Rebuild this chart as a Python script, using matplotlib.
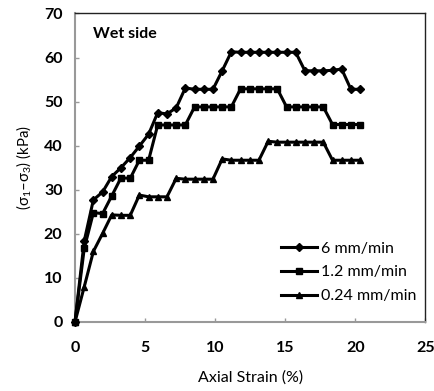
import matplotlib
matplotlib.use("Agg")
import matplotlib.pyplot as plt

plt.rcParams['font.family'] = ['Lato', 'DejaVu Sans']
plt.rcParams['mathtext.fontset'] = 'custom'
plt.rcParams['mathtext.rm'] = 'Lato'
plt.rcParams['mathtext.it'] = 'Lato:italic'

strain = [0, 0.66, 1.31, 1.97, 2.62, 3.28, 3.94, 4.59, 5.25, 5.9, 6.56, 7.22,
          7.87, 8.53, 9.18, 9.84, 10.5, 11.15, 11.81, 12.46, 13.12, 13.78,
          14.43, 15.09, 15.74, 16.4, 17.06, 17.71, 18.37, 19.02, 19.68, 20.34]

rate_6 = [0, 18.4, 27.7, 29.5, 33.0, 35.0, 37.3, 39.9, 42.6, 47.5, 47.2, 48.6,
          53.1, 52.8, 52.8, 52.8, 57.0, 61.3, 61.2, 61.2, 61.2, 61.2, 61.2,
          61.2, 61.2, 57.0, 57.0, 57.0, 57.1, 57.4, 52.8, 52.8]
rate_12 = [0, 16.7, 24.8, 24.6, 28.6, 32.7, 32.6, 36.7, 36.7, 44.7, 44.7, 44.7,
           44.7, 48.8, 48.8, 48.8, 48.8, 48.8, 52.9, 52.9, 52.9, 52.9, 52.9,
           48.8, 48.8, 48.8, 48.8, 48.8, 44.8, 44.8, 44.8, 44.8]
rate_024 = [0, 8.0, 16.0, 20.1, 24.3, 24.2, 24.2, 28.8, 28.4, 28.4, 28.4, 32.6,
            32.4, 32.4, 32.4, 32.4, 37.0, 36.7, 36.7, 36.7, 36.7, 41.0, 40.8,
            40.8, 40.8, 40.8, 40.8, 40.8, 36.7, 36.7, 36.7, 36.7]

labels = ['6 mm/min', '1.2 mm/min', '0.24 mm/min']
x_ticks = [0, 5, 10, 15, 20, 25]
y_ticks = [0, 10, 20, 30, 40, 50, 60, 70]

fig = plt.figure(figsize=(4.34, 3.91), dpi=100)
ax = fig.add_axes([0.1728, 0.1765, 0.8076, 0.789])

ax.plot(strain, rate_6, color='black', lw=2.2, marker='D', ms=3.8,
        label=labels[0], clip_on=False, zorder=3)
ax.plot(strain, rate_12, color='black', lw=2.2, marker='s', ms=4.3,
        label=labels[1], clip_on=False, zorder=3)
ax.plot(strain, rate_024, color='black', lw=2.2, marker='^', ms=4.6,
        label=labels[2], clip_on=False, zorder=3)

ax.set_xlim(0, 25)
ax.set_ylim(0, 70)
ax.set_xticks(x_ticks)
ax.set_yticks(y_ticks)
ax.tick_params(direction='in', length=3, width=1, color='#999999',
               labelsize=11.5)
ax.tick_params(axis='x', pad=14)
ax.tick_params(axis='y', pad=9)
for lab in ax.get_xticklabels() + ax.get_yticklabels():
    lab.set_fontweight('bold')

for side in ['left', 'bottom']:
    ax.spines[side].set_color('#999999')
    ax.spines[side].set_linewidth(1.5)
for side in ['top', 'right']:
    ax.spines[side].set_color('#222222')
    ax.spines[side].set_linewidth(1.0)

ax.set_xlabel('Axial Strain (%)', fontsize=11.5, labelpad=11)
ax.set_ylabel(r'(σ$_1$–σ$_3$) (kPa)', fontsize=10.8, labelpad=8)

ax.text(0.05, 0.935, 'Wet side', transform=ax.transAxes, fontsize=11.5,
        fontweight='bold', va='center', ha='left')

leg = ax.legend(loc='lower right', bbox_to_anchor=(1.0, 0.03), frameon=False,
                fontsize=11.5, handlelength=2.3, handletextpad=0.2,
                labelspacing=0.6, borderaxespad=0.2)

fig.savefig('out.png', dpi=100)
